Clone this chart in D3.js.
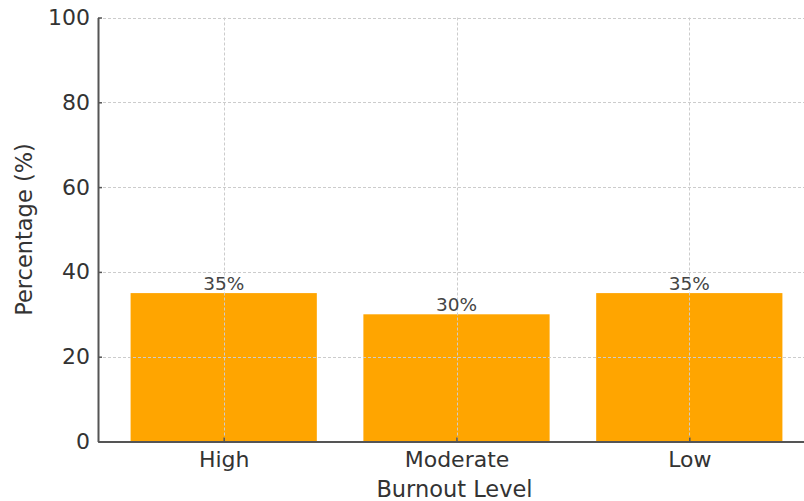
<!DOCTYPE html>
<html>
<head>
<meta charset="utf-8">
<script src="https://cdn.jsdelivr.net/npm/d3@7"></script>
<style>
  html, body { margin: 0; padding: 0; background: #fff; }
  svg { display: block; font-family: "DejaVu Sans", sans-serif; }
</style>
</head>
<body>
<svg id="chart" width="804" height="501"></svg>
<script>
const categories = ["High", "Moderate", "Low"];
const values = [35, 30, 35];
const yTicks = [0, 20, 40, 60, 80, 100];
const xLabel = "Burnout Level";
const yLabel = "Percentage (%)";

const svg = d3.select("#chart");
const mLeft = 98, mRight = 815, mTop = 17.5, mBottom = 441.5;

// matplotlib-like continuous x: bars at 0..n-1, width 0.8, 5% margins
const n = categories.length;
const x = d3.scaleLinear().domain([-0.54, n - 1 + 0.54]).range([mLeft, mRight]);
const y = d3.scaleLinear().domain([0, 100]).range([mBottom, mTop]);
const barW = 0.8;

// bars
svg.append("g").selectAll("rect").data(values).join("rect")
  .attr("x", (d, i) => x(i - barW / 2))
  .attr("width", (d, i) => x(i + barW / 2) - x(i - barW / 2))
  .attr("y", d => y(d))
  .attr("height", d => y(0) - y(d))
  .attr("fill", "#FFA500");

// grid (drawn above bars)
const grid = svg.append("g").attr("stroke", "#cccccc").attr("stroke-width", 1)
  .attr("stroke-dasharray", "3,2");
grid.selectAll("line.h").data(yTicks.filter(t => t > 0)).join("line")
  .attr("class", "h")
  .attr("x1", mLeft).attr("x2", mRight)
  .attr("y1", d => Math.round(y(d)) + 0.5).attr("y2", d => Math.round(y(d)) + 0.5);
grid.selectAll("line.v").data(categories).join("line")
  .attr("class", "v")
  .attr("x1", (d, i) => Math.round(x(i)) + 0.5).attr("x2", (d, i) => Math.round(x(i)) + 0.5)
  .attr("y1", mTop).attr("y2", mBottom);

// value labels
svg.append("g").selectAll("text").data(values).join("text")
  .attr("x", (d, i) => x(i))
  .attr("y", d => y(d) - 3)
  .attr("text-anchor", "middle")
  .attr("font-size", "18.5px")
  .attr("fill", "#444")
  .text(d => d + "%");

// axes
const yAxis = d3.axisLeft(y).tickValues(yTicks).tickSizeInner(-4).tickSizeOuter(0).tickPadding(8);
const gy = svg.append("g").attr("transform", `translate(${mLeft},0)`).call(yAxis);
gy.select(".domain").attr("stroke", "#555").attr("stroke-width", 2);
gy.selectAll(".tick line").attr("stroke", "#555").attr("stroke-width", 1.5);
gy.selectAll(".tick text").attr("font-size", "22px").attr("fill", "#333")
  .attr("font-family", "DejaVu Sans, sans-serif");

const xAxis = d3.axisBottom(x).tickValues(d3.range(n)).tickFormat(i => categories[i])
  .tickSizeInner(-4).tickSizeOuter(0).tickPadding(10);
const gx = svg.append("g").attr("transform", `translate(0,${mBottom})`).call(xAxis);
gx.select(".domain").attr("stroke", "#555").attr("stroke-width", 2);
gx.selectAll(".tick line").attr("stroke", "#555").attr("stroke-width", 1.5);
gx.selectAll(".tick text").attr("font-size", "22px").attr("fill", "#333")
  .attr("font-family", "DejaVu Sans, sans-serif");

// axis labels
svg.append("text")
  .attr("x", (mLeft + mRight) / 2 - 2).attr("y", 497)
  .attr("text-anchor", "middle").attr("font-size", "22.5px").attr("fill", "#333")
  .text(xLabel);
svg.append("text")
  .attr("transform", `translate(32,${(mTop + mBottom) / 2}) rotate(-90)`)
  .attr("text-anchor", "middle").attr("font-size", "22.5px").attr("fill", "#333")
  .text(yLabel);
</script>
</body>
</html>
